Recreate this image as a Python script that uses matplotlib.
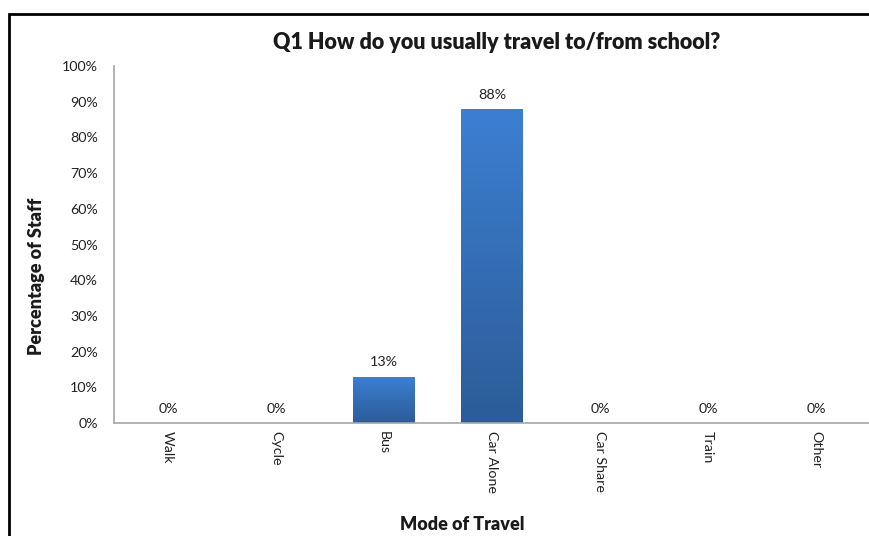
import numpy as np
import matplotlib.pyplot as plt
from matplotlib.patches import Rectangle
from matplotlib.colors import LinearSegmentedColormap

# Survey results
modes = ["Walk", "Cycle", "Bus", "Car Alone", "Car Share", "Train", "Other"]
percent = [0, 0, 13, 88, 0, 0, 0]
y_ticks = [0, 10, 20, 30, 40, 50, 60, 70, 80, 90, 100]

plt.rcParams['font.family'] = ['Lato', 'DejaVu Sans']

fig = plt.figure(figsize=(8.69, 5.36), dpi=100)
ax = fig.add_axes([114 / 869, 113 / 536, 756 / 869, 357 / 536])

# outer chart frame (runs off the right/bottom edge like the screenshot)
fig.patches.append(Rectangle((9 / 869, -0.05), 1.1, 1 - 14 / 536 + 0.05,
                             transform=fig.transFigure, fill=False,
                             edgecolor='black', linewidth=2))

x = np.arange(len(modes))
bars = ax.bar(x, percent, width=0.565, color='none', edgecolor='none')

# vertical gradient fill for each bar
grad_cmap = LinearSegmentedColormap.from_list('g', ['#2c5c98', '#3c7fd2'])
grad = np.linspace(0, 1, 256).reshape(-1, 1)
for b in bars:
    h = b.get_height()
    if h <= 0:
        continue
    x0 = b.get_x()
    im = ax.imshow(grad, cmap=grad_cmap, aspect='auto', origin='lower',
                   extent=[x0, x0 + b.get_width(), 0, h], zorder=2)
    im.set_clip_path(b)

for xi, v in zip(x, percent):
    ax.text(xi, v + 2.3, f"{v}%", ha='center', va='bottom', fontsize=10.3,
            color='#222222')

ax.set_xlim(-0.5, len(modes) - 0.5)
ax.set_ylim(0, 100)
ax.set_yticks(y_ticks)
ax.set_yticklabels([f"{t}%" for t in y_ticks], fontsize=10.3, color='#222222')
ax.set_xticks(x)
ax.set_xticklabels(modes, rotation=270, fontsize=10.3, color='#222222', va='top')
ax.tick_params(axis='y', length=0, pad=11.5)
ax.tick_params(axis='x', length=0, pad=6)

for s in ['top', 'right']:
    ax.spines[s].set_visible(False)
for s in ['left', 'bottom']:
    ax.spines[s].set_color('#a6a6a6')
    ax.spines[s].set_linewidth(1.2)

fig.text(497 / 869, 1 - 42 / 536, "Q1 How do you usually travel to/from school?",
         ha='center', va='center', fontsize=15.5, fontweight='heavy', color='#1a1a1a')
fig.text(37 / 869, 1 - 276 / 536, "Percentage of Staff", rotation=90,
         ha='center', va='center', fontsize=13, fontweight='heavy', color='#1a1a1a')
fig.text(462 / 869, 1 - 524 / 536, "Mode of Travel",
         ha='center', va='center', fontsize=13, fontweight='heavy', color='#1a1a1a')

fig.savefig("out.png", dpi=100)
